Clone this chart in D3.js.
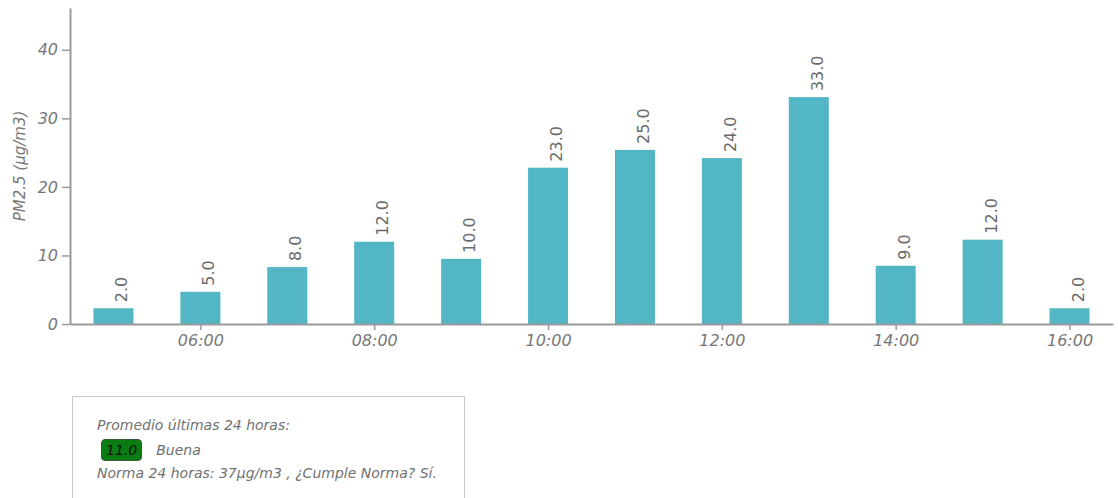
<!DOCTYPE html>
<html lang="es">
<head>
<meta charset="UTF-8">
<title>PM2.5</title>
<script src="https://d3js.org/d3.v7.min.js"></script>
<style>
    body { margin: 0; background: #fff; font-family: "DejaVu Sans", sans-serif; }
    #info {
        position: absolute;
        left: 72px; top: 396px;
        width: 393px; height: 110px;
        border: 1px solid #c8c8c8;
        box-sizing: border-box;
        padding: 17px 0 0 24px;
        font-size: 14px;
        font-style: italic;
        color: #707070;
        line-height: 23px;
    }
    .badge {
        display: inline-block;
        background: #0a7d12;
        border: 1px solid #3a5a3a;
        border-radius: 4px;
        color: #111;
        padding: 0 4px;
        margin: 2px 14px 0 4px;
        line-height: 20px;
    }
</style>
</head>
<body>
<svg width="1118" height="390"></svg>
<div id="info">
    Promedio últimas 24 horas:<br>
    <span class="badge">11.0</span>Buena<br>
    Norma 24 horas: 37μg/m3 , ¿Cumple Norma? Sí.
</div>
<script>
    const hours = ["05:00","06:00","07:00","08:00","09:00","10:00","11:00","12:00","13:00","14:00","15:00","16:00"];
    const values = [2.3, 4.7, 8.3, 12.0, 9.5, 22.8, 25.4, 24.2, 33.1, 8.5, 12.3, 2.3];
    const labels = ["2.0","5.0","8.0","12.0","10.0","23.0","25.0","24.0","33.0","9.0","12.0","2.0"];
    const yTicks = [0, 10, 20, 30, 40];
    const xTicks = ["06:00","08:00","10:00","12:00","14:00","16:00"];

    const svg = d3.select("svg");
    const m = { left: 70, right: 1113, top: 8, bottom: 324 };
    const parse = d3.timeParse("%H:%M");

    const x = d3.scaleTime()
        .domain([parse("04:30"), parse("16:30")])
        .range([m.left, m.right]);
    const y = d3.scaleLinear().domain([0, 46.1]).range([m.bottom, m.top]);
    const barW = 40;

    svg.selectAll("rect.bar")
        .data(values)
        .enter().append("rect")
        .attr("class", "bar")
        .attr("x", (d, i) => x(parse(hours[i])) - barW / 2)
        .attr("width", barW)
        .attr("y", d => y(d))
        .attr("height", d => y(0) - y(d))
        .attr("fill", "#52b6c4");

    svg.selectAll("text.val")
        .data(values)
        .enter().append("text")
        .attr("class", "val")
        .attr("transform", (d, i) => `translate(${x(parse(hours[i])) + 14},${y(d) - 6}) rotate(-90)`)
        .attr("font-size", 16)
        .attr("fill", "#6a6a6a")
        .text((d, i) => labels[i]);

    // eje y
    const yAxis = svg.append("g")
        .attr("transform", `translate(${m.left},0)`)
        .call(d3.axisLeft(y).tickValues(yTicks).tickSize(8).tickPadding(4).tickSizeOuter(0));
    yAxis.select(".domain").attr("stroke", "#9a9a9a").attr("stroke-width", 2);
    yAxis.selectAll(".tick line").attr("stroke", "#9a9a9a").attr("stroke-width", 1.5);
    yAxis.selectAll(".tick text").attr("font-size", 16).attr("font-style", "italic")
        .attr("fill", "#777").attr("font-family", "'DejaVu Sans', sans-serif");

    // eje x
    const xAxis = svg.append("g")
        .attr("transform", `translate(0,${m.bottom})`)
        .call(d3.axisBottom(x).tickValues(xTicks.map(parse)).tickFormat(d3.timeFormat("%H:%M"))
            .tickSize(6).tickPadding(5).tickSizeOuter(0));
    xAxis.select(".domain").attr("stroke", "#9a9a9a").attr("stroke-width", 2);
    xAxis.selectAll(".tick line").attr("stroke", "#9a9a9a").attr("stroke-width", 1.5);
    xAxis.selectAll(".tick text").attr("font-size", 16).attr("font-style", "italic")
        .attr("fill", "#777").attr("font-family", "'DejaVu Sans', sans-serif");

    svg.append("text")
        .attr("transform", `translate(25,${(y(0) + y(46.1)) / 2}) rotate(-90)`)
        .attr("text-anchor", "middle")
        .attr("font-size", 15)
        .attr("font-style", "italic")
        .attr("fill", "#777")
        .text("PM2.5 (μg/m3)");
</script>
</body>
</html>
